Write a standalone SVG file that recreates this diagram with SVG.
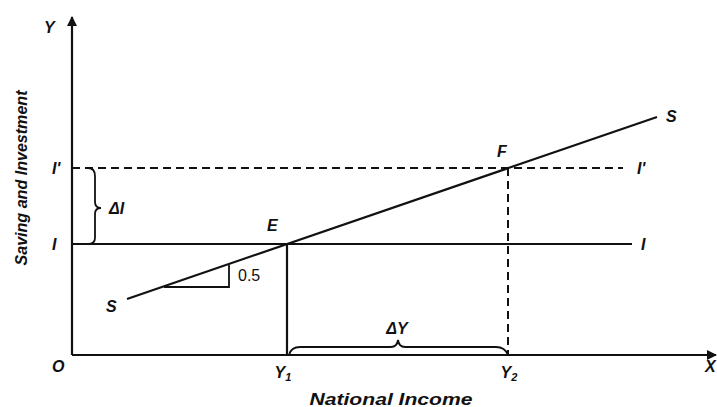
<svg xmlns="http://www.w3.org/2000/svg" width="717" height="407" viewBox="0 0 717 407">
<defs>
<marker id="arr" markerWidth="10" markerHeight="10" refX="9" refY="5" orient="auto" markerUnits="userSpaceOnUse">
<path d="M0,0 L10,5 L0,10 Z" fill="#111"/>
</marker>
<style>
.ln{stroke:#111;stroke-width:2.2;fill:none}
.thin{stroke:#111;stroke-width:1.8;fill:none}
.dash{stroke:#111;stroke-width:2;fill:none;stroke-dasharray:8,5}
.lbl{font-family:"Liberation Sans",Arial,sans-serif;font-style:italic;font-weight:bold;font-size:16px;fill:#111}
.num{font-family:"Liberation Sans",Arial,sans-serif;font-size:16px;fill:#111}
</style>
</defs>
<rect width="717" height="407" fill="#fff"/>
<g id="connectors">
<line class="ln" x1="72" y1="355" x2="72" y2="17" marker-end="url(#arr)"/>
<line class="ln" x1="72" y1="355" x2="716" y2="355" marker-end="url(#arr)"/>
<line class="dash" x1="72" y1="168" x2="623" y2="168"/>
<line class="ln" x1="72" y1="244" x2="632" y2="244"/>
<line class="ln" x1="127" y1="299" x2="657" y2="117"/>
<line class="ln" x1="287" y1="244" x2="287" y2="355"/>
<line class="dash" x1="508" y1="168" x2="508" y2="355" stroke-dasharray="6,4"/>
<path class="thin" d="M164,287 H229 V265"/>
<path class="thin" d="M88,168 Q95,168 95,176 V202 Q95,208 101,208 Q95,208 95,214 V238 Q95,244 88,244"/>
<path class="thin" d="M289,355 Q291,347 300,347 H391 Q397,347 398,340 Q399,347 405,347 H496 Q505,347 508,355"/>
</g>
<g id="axis-labels">
<text class="lbl" x="44" y="33">Y</text>
<text class="lbl" x="705" y="372">X</text>
<text class="lbl" x="52" y="372">O</text>
<text class="lbl" x="0" y="0" transform="translate(27,178) rotate(-90)" text-anchor="middle" font-size="15" textLength="175" lengthAdjust="spacingAndGlyphs">Saving and Investment</text>
<text class="lbl" x="391" y="405" text-anchor="middle" font-size="15" textLength="163" lengthAdjust="spacingAndGlyphs">National Income</text>
</g>
<g id="node-Iprime">
<text class="lbl" x="52" y="174">I'</text>
<text class="lbl" x="637" y="174">I'</text>
</g>
<g id="node-I">
<text class="lbl" x="52" y="250">I</text>
<text class="lbl" x="641" y="250">I</text>
</g>
<g id="node-S">
<text class="lbl" x="106" y="312">S</text>
<text class="lbl" x="666" y="122">S</text>
</g>
<g id="node-E"><text class="lbl" x="267" y="231">E</text></g>
<g id="node-F"><text class="lbl" x="497" y="157">F</text></g>
<g id="node-slope"><text class="num" x="238" y="281">0.5</text></g>
<g id="node-dI"><text class="lbl" x="109" y="214">ΔI</text></g>
<g id="node-dY"><text class="lbl" x="397" y="334" text-anchor="middle">ΔY</text></g>
<g id="node-Y1"><text class="lbl" x="283" y="378" text-anchor="middle">Y<tspan font-size="11" dy="3">1</tspan></text></g>
<g id="node-Y2"><text class="lbl" x="509" y="378" text-anchor="middle">Y<tspan font-size="11" dy="3">2</tspan></text></g>
</svg>
